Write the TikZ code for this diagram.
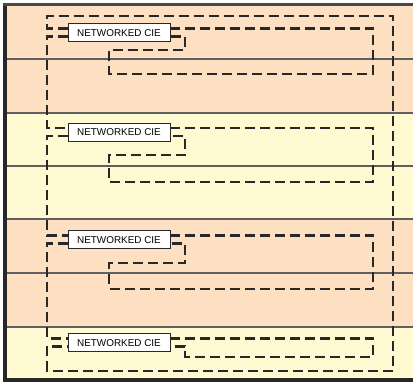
\documentclass[tikz,border=0pt]{standalone}
\usepackage{fontspec}
\setmainfont{Liberation Sans}
\definecolor{peach}{RGB}{253,223,193}
\definecolor{paleyellow}{RGB}{255,250,210}
\definecolor{framecol}{RGB}{40,40,40}
\definecolor{sepcol}{RGB}{95,95,95}
\begin{document}
\begin{tikzpicture}[x=1pt,y=-1pt,
  cie/.style={draw=framecol,line width=1pt,fill=white,minimum width=102pt,minimum height=18pt,inner sep=0pt,outer sep=0pt,font=\fontsize{9.9}{10}\selectfont},
  loopline/.style={draw=framecol,line width=2.1pt,dash pattern=on 10pt off 5pt},
  sepline/.style={draw=sepcol,line width=1.2pt}]
\useasboundingbox (0,0) rectangle (413,382);
\fill[white] (0,0) rectangle (413,382);
% bands
\fill[peach] (3,5) rectangle (413,113);
\fill[paleyellow] (3,113) rectangle (413,219);
\fill[peach] (3,219) rectangle (413,327);
\fill[paleyellow] (3,327) rectangle (413,380);
% separators
\draw[sepline] (7,59) -- (413,59);
\draw[sepline] (7,113) -- (413,113);
\draw[sepline] (7,166) -- (413,166);
\draw[sepline] (7,219) -- (413,219);
\draw[sepline] (7,273) -- (413,273);
\draw[sepline] (7,327) -- (413,327);
% frame
\fill[framecol] (3,3) rectangle (7,382);
\fill[framecol!85] (3,3) rectangle (413,6.5);
\fill[framecol] (3,378.5) rectangle (413,382);
% boxes
\node[cie] (b1) at (119,33) {NETWORKED CIE};
\node[cie] (b2) at (119,132.5) {NETWORKED CIE};
\node[cie] (b3) at (119,240) {NETWORKED CIE};
\node[cie] (b4) at (119,343) {NETWORKED CIE};
% outer loop
\draw[loopline] ([yshift=4.5pt]b1.west) -| (47,16) -- (393,16) |- (47,371) |- ([yshift=-3.5pt]b4.west);
\draw[loopline] ([yshift=-3.5pt]b1.west) -- ++(-21,0) |- ([yshift=4.5pt]b2.west);
\draw[loopline] ([yshift=-3.5pt]b2.west) -- ++(-21,0) |- ([yshift=4.5pt]b3.west);
\draw[loopline] ([yshift=-3.5pt]b3.west) -- ++(-21,0) |- ([yshift=4.5pt]b4.west);
% inner loops
\draw[loopline] ([yshift=4.5pt]b1.east) -| (373,74) -| (109,50) -- (185,50) |- ([yshift=-3.5pt]b1.east);
\draw[loopline] ([yshift=4.5pt]b2.east) -| (373,182) -| (109,155) -- (185,155) |- ([yshift=-3.5pt]b2.east);
\draw[loopline] ([yshift=4.5pt]b3.east) -| (373,289) -| (109,263) -- (185,263) |- ([yshift=-3.5pt]b3.east);
\draw[loopline] ([yshift=4.5pt]b4.east) -| (373,357) -- (185,357) |- ([yshift=-3.5pt]b4.east);
\end{tikzpicture}
\end{document}
